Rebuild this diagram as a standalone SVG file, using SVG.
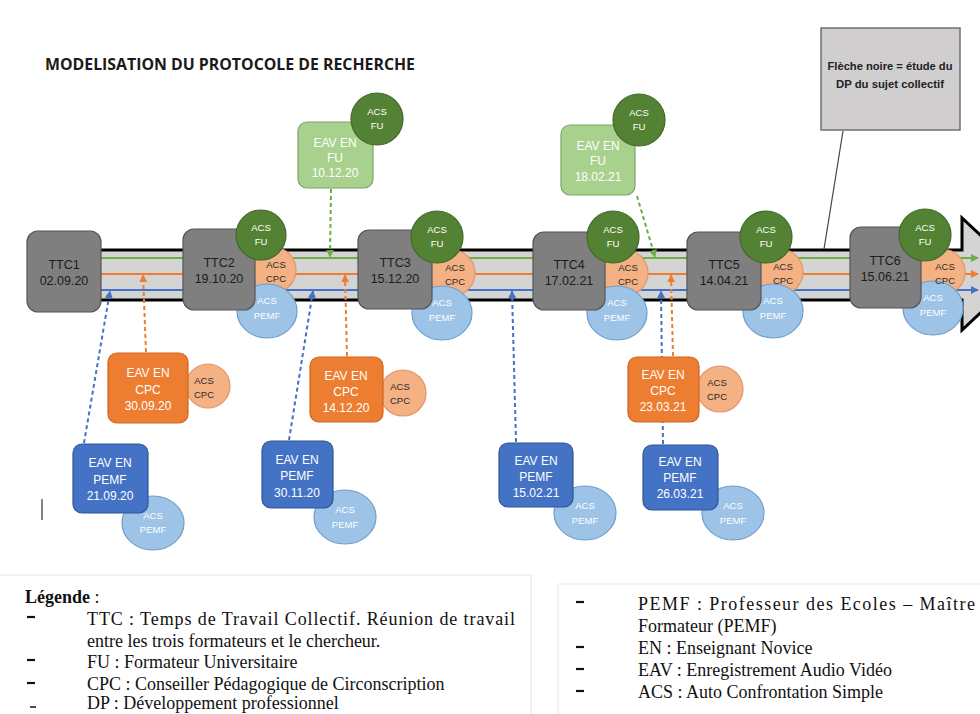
<svg xmlns="http://www.w3.org/2000/svg" width="980" height="714" viewBox="0 0 980 714">
<style>
.ttc rect{fill:#7f7f7f;stroke:#555;stroke-width:1.2}
.ttc text{font-family:"Liberation Sans",Arial,sans-serif;font-size:12.5px;fill:#1c1c1c;text-anchor:middle}
.fu{fill:#548235;stroke:#41692a;stroke-width:1.2}
.cpc{fill:#f4b183;stroke:#e3956a;stroke-width:1.2}
.pemf{fill:#9dc3e6;stroke:#6e9fcc;stroke-width:1.2}
.eavfu{fill:#a9d18e;stroke:#7da565;stroke-width:1.2}
.eavcpc{fill:#ed7d31;stroke:#cf6620;stroke-width:1.2}
.eavpemf{fill:#4472c4;stroke:#2f5597;stroke-width:1.2}
.w{font-family:"Liberation Sans",Arial,sans-serif;font-size:12px;fill:#fff;text-anchor:middle}
.s{font-family:"Liberation Sans",Arial,sans-serif;font-size:9.5px;text-anchor:middle}
.sw{fill:#fff}
.sd{fill:#2a2a2a}
.dash{fill:none;stroke-width:2;stroke-dasharray:4 3}
.leg{font-family:"Liberation Serif","Times New Roman",serif;font-size:18px;fill:#111}
.dsh{stroke:#111;stroke-width:2.2}
</style>
<defs>
<marker id="ag" viewBox="0 0 10 10" refX="9" refY="5" markerWidth="4" markerHeight="4" orient="auto"><path d="M0,0 L10,5 L0,10 z" fill="#70ad47"/></marker>
<marker id="ao" viewBox="0 0 10 10" refX="9" refY="5" markerWidth="4" markerHeight="4" orient="auto"><path d="M0,0 L10,5 L0,10 z" fill="#ed7d31"/></marker>
<marker id="ab" viewBox="0 0 10 10" refX="9" refY="5" markerWidth="4" markerHeight="4" orient="auto"><path d="M0,0 L10,5 L0,10 z" fill="#4472c4"/></marker>
</defs>
<rect width="980" height="714" fill="#fff"/>

<text x="45" y="70" font-family="'Open Sans','Liberation Sans',sans-serif" font-weight="bold" font-size="15.5" fill="#1a1a1a" textLength="370" lengthAdjust="spacingAndGlyphs">MODELISATION DU PROTOCOLE DE RECHERCHE</text>

<!-- big black arrow -->
<g id="timeline">
<polygon points="40,250 962,250 962,218 1022,274 962,330 962,300 40,300" fill="#d4d4d4" stroke="#000" stroke-width="3"/>
<line x1="100" y1="258" x2="978" y2="258" stroke="#70ad47" stroke-width="2" marker-end="url(#ag)"/>
<line x1="100" y1="274" x2="978" y2="274" stroke="#ed7d31" stroke-width="2" marker-end="url(#ao)"/>
<line x1="100" y1="290" x2="978" y2="290" stroke="#4472c4" stroke-width="2" marker-end="url(#ab)"/>
</g>

<g id="connectors">
<line class="dash" x1="331" y1="189" x2="330" y2="257" stroke="#70ad47" marker-end="url(#ag)"/>
<line class="dash" x1="637" y1="196" x2="655" y2="257" stroke="#70ad47" marker-end="url(#ag)"/>
<line class="dash" x1="146" y1="352" x2="143" y2="275" stroke="#ed7d31" marker-end="url(#ao)"/>
<line class="dash" x1="347" y1="356" x2="345" y2="275" stroke="#ed7d31" marker-end="url(#ao)"/>
<line class="dash" x1="673" y1="356" x2="671" y2="275" stroke="#ed7d31" marker-end="url(#ao)"/>
<line class="dash" x1="84" y1="443" x2="110" y2="291" stroke="#4472c4" marker-end="url(#ab)"/>
<line class="dash" x1="289" y1="440" x2="313" y2="291" stroke="#4472c4" marker-end="url(#ab)"/>
<line class="dash" x1="516" y1="442" x2="512" y2="291" stroke="#4472c4" marker-end="url(#ab)"/>
<line class="dash" x1="663" y1="444" x2="661" y2="291" stroke="#4472c4" marker-end="url(#ab)"/>
<line x1="843" y1="131" x2="824" y2="249" stroke="#444" stroke-width="1.2"/>
</g>

<g id="note">
<rect x="821" y="28" width="139" height="102" fill="#d0cece" stroke="#707070" stroke-width="1.5"/>
<text x="890" y="70" font-family="'Liberation Sans',Arial,sans-serif" font-weight="bold" font-size="10.5" fill="#222" text-anchor="middle" textLength="125" lengthAdjust="spacingAndGlyphs">Flèche noire = étude du</text>
<text x="890" y="88" font-family="'Liberation Sans',Arial,sans-serif" font-weight="bold" font-size="10.5" fill="#222" text-anchor="middle" textLength="108" lengthAdjust="spacingAndGlyphs">DP du sujet collectif</text>
</g>

<!-- TTC nodes -->
<g id="ttc1" class="ttc">
<rect x="27" y="231" width="74" height="81" rx="11"/>
<text x="64" y="269">TTC1</text><text x="64" y="285">02.09.20</text>
</g>
<g id="ttc2">
<circle class="cpc" cx="273" cy="270" r="23"/>
<ellipse class="pemf" cx="267" cy="311" rx="30" ry="27"/>
<g class="ttc"><rect x="183" y="229" width="72" height="81" rx="11"/>
<text x="219" y="267">TTC2</text><text x="219" y="283">19.10.20</text></g>
<circle class="fu" cx="261" cy="235" r="25"/>
<text class="s sw" x="261" y="231">ACS</text><text class="s sw" x="261" y="245">FU</text>
<text class="s sd" x="276" y="268">ACS</text><text class="s sd" x="276" y="282">CPC</text>
<text class="s sw" x="267" y="304">ACS</text><text class="s sw" x="267" y="319">PEMF</text>
</g>
<g id="ttc3">
<circle class="cpc" cx="452" cy="273" r="23"/>
<ellipse class="pemf" cx="442" cy="313" rx="30" ry="27"/>
<g class="ttc"><rect x="358" y="230" width="74" height="79" rx="11"/>
<text x="395" y="267">TTC3</text><text x="395" y="283">15.12.20</text></g>
<circle class="fu" cx="437" cy="237" r="26"/>
<text class="s sw" x="437" y="233">ACS</text><text class="s sw" x="437" y="247">FU</text>
<text class="s sd" x="455" y="271">ACS</text><text class="s sd" x="455" y="285">CPC</text>
<text class="s sw" x="442" y="306">ACS</text><text class="s sw" x="442" y="321">PEMF</text>
</g>
<g id="ttc4">
<circle class="cpc" cx="625" cy="273" r="23"/>
<ellipse class="pemf" cx="617" cy="313" rx="30" ry="27"/>
<g class="ttc"><rect x="533" y="232" width="72" height="78" rx="11"/>
<text x="569" y="269">TTC4</text><text x="569" y="285">17.02.21</text></g>
<circle class="fu" cx="613" cy="237" r="26"/>
<text class="s sw" x="613" y="233">ACS</text><text class="s sw" x="613" y="247">FU</text>
<text class="s sd" x="628" y="271">ACS</text><text class="s sd" x="628" y="285">CPC</text>
<text class="s sw" x="617" y="306">ACS</text><text class="s sw" x="617" y="321">PEMF</text>
</g>
<g id="ttc5">
<circle class="cpc" cx="780" cy="272" r="23"/>
<ellipse class="pemf" cx="773" cy="311" rx="30" ry="27"/>
<g class="ttc"><rect x="687" y="232" width="74" height="78" rx="11"/>
<text x="724" y="269">TTC5</text><text x="724" y="285">14.04.21</text></g>
<circle class="fu" cx="766" cy="237" r="26"/>
<text class="s sw" x="766" y="233">ACS</text><text class="s sw" x="766" y="247">FU</text>
<text class="s sd" x="783" y="270">ACS</text><text class="s sd" x="783" y="284">CPC</text>
<text class="s sw" x="773" y="304">ACS</text><text class="s sw" x="773" y="319">PEMF</text>
</g>
<g id="ttc6">
<circle class="cpc" cx="942" cy="272" r="23"/>
<ellipse class="pemf" cx="933" cy="308" rx="30" ry="27"/>
<g class="ttc"><rect x="850" y="227" width="71" height="81" rx="11"/>
<text x="885" y="265">TTC6</text><text x="885" y="281">15.06.21</text></g>
<circle class="fu" cx="925" cy="235" r="26"/>
<text class="s sw" x="925" y="231">ACS</text><text class="s sw" x="925" y="245">FU</text>
<text class="s sd" x="945" y="270">ACS</text><text class="s sd" x="945" y="284">CPC</text>
<text class="s sw" x="933" y="301">ACS</text><text class="s sw" x="933" y="316">PEMF</text>
</g>

<!-- EAV FU -->
<g id="eav-fu-1">
<rect class="eavfu" x="298" y="122" width="75" height="66" rx="9"/>
<text class="w" x="335" y="147">EAV EN</text><text class="w" x="335" y="162">FU</text><text class="w" x="335" y="177">10.12.20</text>
<circle class="fu" cx="377" cy="119" r="26"/>
<text class="s sw" x="377" y="115">ACS</text><text class="s sw" x="377" y="129">FU</text>
</g>
<g id="eav-fu-2">
<rect class="eavfu" x="561" y="125" width="74" height="70" rx="9"/>
<text class="w" x="598" y="150">EAV EN</text><text class="w" x="598" y="165">FU</text><text class="w" x="598" y="181">18.02.21</text>
<circle class="fu" cx="639" cy="120" r="26"/>
<text class="s sw" x="639" y="116">ACS</text><text class="s sw" x="639" y="130">FU</text>
</g>

<!-- EAV CPC -->
<g id="eav-cpc-1">
<circle class="cpc" cx="208" cy="386" r="22"/>
<text class="s sd" x="204" y="384">ACS</text><text class="s sd" x="204" y="398">CPC</text>
<rect class="eavcpc" x="108" y="353" width="80" height="70" rx="9"/>
<text class="w" x="148" y="377">EAV EN</text><text class="w" x="148" y="394">CPC</text><text class="w" x="148" y="410">30.09.20</text>
</g>
<g id="eav-cpc-2">
<circle class="cpc" cx="403" cy="393" r="23"/>
<text class="s sd" x="400" y="390">ACS</text><text class="s sd" x="400" y="404">CPC</text>
<rect class="eavcpc" x="310" y="357" width="73" height="65" rx="9"/>
<text class="w" x="346" y="380">EAV EN</text><text class="w" x="346" y="396">CPC</text><text class="w" x="346" y="412">14.12.20</text>
</g>
<g id="eav-cpc-3">
<circle class="cpc" cx="720" cy="389" r="23"/>
<text class="s sd" x="717" y="386">ACS</text><text class="s sd" x="717" y="400">CPC</text>
<rect class="eavcpc" x="628" y="357" width="71" height="65" rx="9"/>
<text class="w" x="663" y="379">EAV EN</text><text class="w" x="663" y="395">CPC</text><text class="w" x="663" y="411">23.03.21</text>
</g>

<!-- EAV PEMF -->
<g id="eav-pemf-1">
<ellipse class="pemf" cx="153" cy="523" rx="31" ry="27"/>
<text class="s sw" x="153" y="519">ACS</text><text class="s sw" x="153" y="533">PEMF</text>
<rect class="eavpemf" x="73" y="444" width="75" height="69" rx="9"/>
<text class="w" x="110" y="467">EAV EN</text><text class="w" x="110" y="484">PEMF</text><text class="w" x="110" y="500">21.09.20</text>
</g>
<g id="eav-pemf-2">
<ellipse class="pemf" cx="345" cy="517" rx="31" ry="27"/>
<text class="s sw" x="345" y="513">ACS</text><text class="s sw" x="345" y="528">PEMF</text>
<rect class="eavpemf" x="262" y="441" width="71" height="67" rx="9"/>
<text class="w" x="297" y="464">EAV EN</text><text class="w" x="297" y="480">PEMF</text><text class="w" x="297" y="497">30.11.20</text>
</g>
<g id="eav-pemf-3">
<ellipse class="pemf" cx="585" cy="513" rx="31" ry="27"/>
<text class="s sw" x="585" y="509">ACS</text><text class="s sw" x="585" y="524">PEMF</text>
<rect class="eavpemf" x="499" y="443" width="74" height="64" rx="9"/>
<text class="w" x="536" y="465">EAV EN</text><text class="w" x="536" y="481">PEMF</text><text class="w" x="536" y="497">15.02.21</text>
</g>
<g id="eav-pemf-4">
<ellipse class="pemf" cx="733" cy="513" rx="31" ry="27"/>
<text class="s sw" x="733" y="509">ACS</text><text class="s sw" x="733" y="524">PEMF</text>
<rect class="eavpemf" x="643" y="445" width="75" height="65" rx="9"/>
<text class="w" x="680" y="466">EAV EN</text><text class="w" x="680" y="482">PEMF</text><text class="w" x="680" y="498">26.03.21</text>
</g>

<line x1="42" y1="499" x2="42" y2="520" stroke="#333" stroke-width="1.2"/>

<!-- legend -->
<g id="legend-left">
<path d="M0,575 H531 V714" fill="none" stroke="#e4e4e4" stroke-width="1"/>
<text class="leg" x="25" y="603"><tspan font-weight="bold">Légende</tspan> :</text>
<line class="dsh" x1="27" y1="617" x2="35" y2="617"/>
<text class="leg" x="87" y="625" textLength="428" lengthAdjust="spacing">TTC : Temps de Travail Collectif. Réunion de travail</text>
<text class="leg" x="87" y="647">entre les trois formateurs et le chercheur.</text>
<line class="dsh" x1="27" y1="660" x2="35" y2="660"/>
<text class="leg" x="87" y="668">FU : Formateur Universitaire</text>
<line class="dsh" x1="27" y1="683" x2="35" y2="683"/>
<text class="leg" x="87" y="690">CPC : Conseiller Pédagogique de Circonscription</text>
<line x1="30" y1="707" x2="36" y2="707" stroke="#111" stroke-width="1.5"/>
<text class="leg" x="87" y="709">DP : Développement professionnel</text>
</g>
<g id="legend-right">
<path d="M558,714 V584 H980" fill="none" stroke="#e4e4e4" stroke-width="1"/>
<line class="dsh" x1="576" y1="602" x2="584" y2="602"/>
<text class="leg" x="638" y="610" textLength="337" lengthAdjust="spacing">PEMF : Professeur des Ecoles – Maître</text>
<text class="leg" x="638" y="632">Formateur (PEMF)</text>
<line class="dsh" x1="576" y1="647" x2="584" y2="647"/>
<text class="leg" x="638" y="654">EN : Enseignant Novice</text>
<line class="dsh" x1="576" y1="669" x2="584" y2="669"/>
<text class="leg" x="638" y="676">EAV : Enregistrement Audio Vidéo</text>
<line class="dsh" x1="576" y1="691" x2="584" y2="691"/>
<text class="leg" x="638" y="698">ACS : Auto Confrontation Simple</text>
</g>
</svg>
